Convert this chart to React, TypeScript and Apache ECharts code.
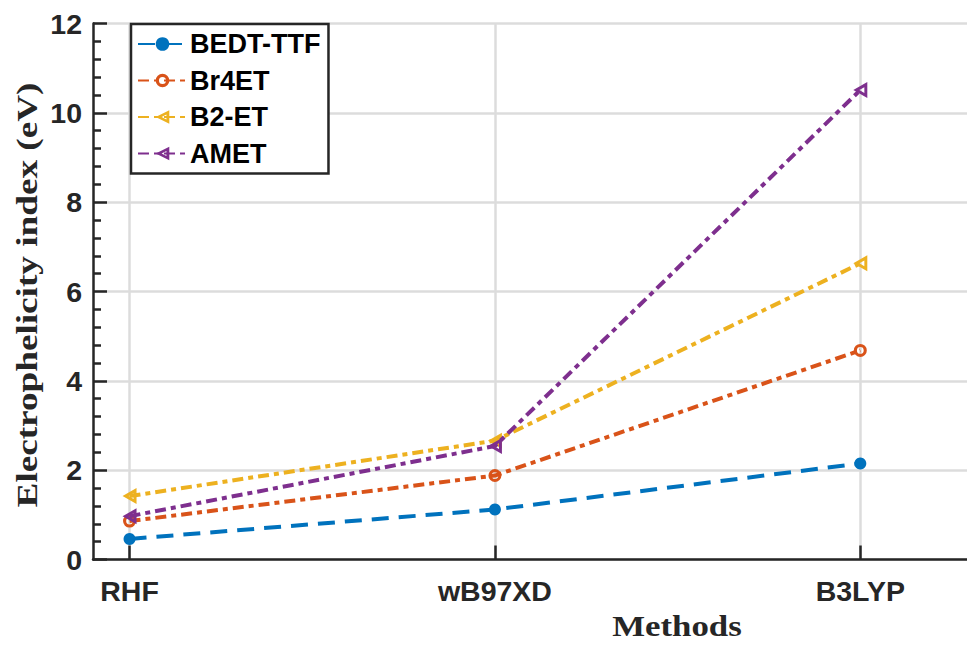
import React, { useEffect, useRef } from "react";
import * as echarts from "echarts";

const categories = ["RHF", "wB97XD", "B3LYP"];
const seriesNames = ["BEDT-TTF", "Br4ET", "B2-ET", "AMET"];
const bedtTtf = [0.46, 1.12, 2.15];
const br4et = [0.86, 1.88, 4.68];
const b2et = [1.42, 2.66, 6.63];
const amet = [0.97, 2.54, 10.51];
const yTicks = [0, 2, 4, 6, 8, 10, 12];
const xTitle = "Methods";
const yTitle = "Electrophelicity index (eV)";

const colors = ["#0072BD", "#D95319", "#EDB120", "#7E2F8E"];
const sans = "'Liberation Sans', Arial, Helvetica, sans-serif";
const serif = "'Liberation Serif', 'Times New Roman', serif";
const ink = "#262626";

const ringPath =
  "path://M0,50 A50,50 0 1 1 100,50 A50,50 0 1 1 0,50 Z M24,50 A26,26 0 1 0 76,50 A26,26 0 1 0 24,50 Z";
const leftTriPath = "path://M0,50 L90,0 L90,100 Z M39,50 L71,67.7 L71,32.3 Z";

export default function App() {
  const ref = useRef<HTMLDivElement>(null);
  useEffect(() => {
    if (!ref.current) return;
    const chart = echarts.init(ref.current, null, { renderer: "svg" });
    const xPos = categories.map((_, i) => i + 1);
    const all = [bedtTtf, br4et, b2et, amet];
    const symbols = ["circle", ringPath, leftTriPath, leftTriPath];
    const sizes: any[] = [12, 13, [14, 16], [14, 16]];
    const dashes: any[] = [[17, 10], [11, 5, 5, 5], [11, 5, 5, 5], [11, 5, 5, 5]];
    const series = all.map((vals, k) => ({
      name: seriesNames[k],
      type: "line",
      data: vals.map((v, i) => [xPos[i], v]),
      symbol: symbols[k],
      symbolSize: sizes[k],
      showAllSymbol: true,
      z: 3 + k,
      color: colors[k],
      itemStyle: { color: colors[k] },
      lineStyle: { color: colors[k], width: 4, type: dashes[k] },
      emphasis: { disabled: true },
    }));
    chart.setOption({
      animation: false,
      color: colors,
      grid: { left: 93, right: 0, top: 23.5, bottom: 86.5, containLabel: false },
      legend: {
        orient: "vertical",
        left: 131,
        top: 24,
        data: seriesNames,
        backgroundColor: "#fff",
        borderColor: ink,
        borderWidth: 2.5,
        padding: [6, 8, 6, 6],
        itemWidth: 49,
        itemHeight: 17,
        itemGap: 8.5,
        textStyle: { fontFamily: sans, fontWeight: "bold", fontSize: 27, color: "#000", lineHeight: 28, padding: [0, 0, 0, -2] },
      },
      xAxis: {
        type: "value",
        min: 0.9,
        max: 3.292,
        axisLine: { show: true, onZero: false, lineStyle: { color: ink, width: 2.5 } },
        axisTick: { show: true, inside: true, length: 14, lineStyle: { color: ink, width: 2.5 }, customValues: xPos },
        axisLabel: {
          customValues: xPos,
          formatter: (v: number) => categories[Math.round(v) - 1] ?? "",
          fontFamily: sans,
          fontWeight: "bold",
          fontSize: 28.5,
          color: ink,
          margin: 17,
        },
        splitLine: { show: true, lineStyle: { color: "#dcdcdc", width: 2.5 } },
      },
      yAxis: {
        type: "value",
        min: yTicks[0],
        max: yTicks[yTicks.length - 1],
        interval: 2,
        axisLine: { show: true, lineStyle: { color: ink, width: 2.5 } },
        axisTick: { show: true, inside: true, length: 14, lineStyle: { color: ink, width: 2.5 } },
        minorTick: { show: true, splitNumber: 5, length: 8, lineStyle: { color: ink, width: 2.5 } },
        axisLabel: { fontFamily: sans, fontWeight: "bold", fontSize: 28.5, color: ink, margin: 11 },
        splitLine: { show: true, lineStyle: { color: "#dcdcdc", width: 2.5 } },
      },
      graphic: [
        {
          type: "text",
          x: 27,
          y: 295,
          rotation: Math.PI / 2,
          scaleX: 1.24,
          style: { text: yTitle, font: `bold 30px ${serif}`, fill: ink, align: "center", verticalAlign: "middle" },
        },
        {
          type: "text",
          x: 677,
          y: 626,
          scaleX: 1.16,
          style: { text: xTitle, font: `bold 30px ${serif}`, fill: ink, align: "center", verticalAlign: "middle" },
        },
      ],
      series,
    });
    return () => chart.dispose();
  }, []);
  return <div ref={ref} style={{ width: 967, height: 646, position: "absolute", left: 0, top: 0 }} />;
}
